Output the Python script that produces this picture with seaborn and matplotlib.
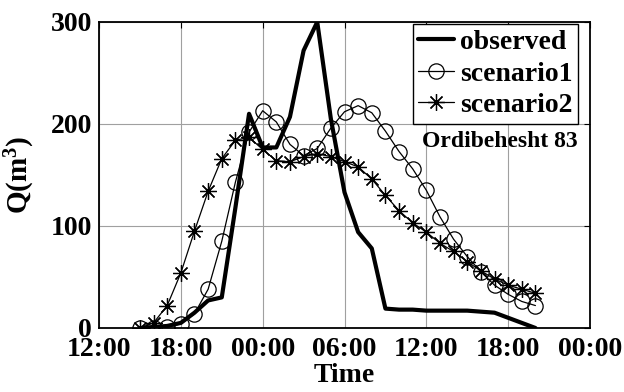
import numpy as np
import pandas as pd
import matplotlib
matplotlib.use("Agg")
import matplotlib.pyplot as plt
import matplotlib.dates as mdates
import seaborn as sns

# Hourly discharge, 15:00 on day one to 20:00 on day two
start_time = "2004-05-01 15:00"
n_hours = 30
observed = [0, 1, 2, 5, 15, 27, 30, 118, 210, 177, 177, 207, 272, 300, 205,
            133, 94, 78, 19, 18, 18, 17, 17, 17, 17, 16, 15, 10, 5, 0]
scenario1 = [0, 0, 1, 4, 14, 38, 85, 143, 192, 213, 202, 180, 169, 176, 196,
             212, 218, 211, 193, 173, 156, 135, 109, 87, 70, 55, 42, 33, 26, 22]
scenario2 = [0, 5, 22, 54, 95, 134, 166, 184, 187, 175, 164, 163, 168, 171, 168,
             163, 158, 146, 130, 115, 103, 94, 83, 75, 65, 56, 48, 42, 38, 34]
y_ticks = [0, 100, 200, 300]
x_range = ["2004-05-01 12:00", "2004-05-03 00:00"]
event_name = "Ordibehesht 83"

times = pd.date_range(start_time, periods=n_hours, freq="h")
df = pd.DataFrame({"time": times, "observed": observed,
                   "scenario1": scenario1, "scenario2": scenario2})

sns.set_theme(style="white")
plt.rcParams["font.family"] = ["Liberation Serif", "DejaVu Serif"]
plt.rcParams["font.weight"] = "bold"
plt.rcParams["text.color"] = "black"
plt.rcParams["axes.labelcolor"] = "black"
plt.rcParams["xtick.color"] = "black"
plt.rcParams["ytick.color"] = "black"
plt.rcParams["mathtext.fontset"] = "custom"
plt.rcParams["mathtext.rm"] = "Liberation Serif:bold"
plt.rcParams["mathtext.it"] = "Liberation Serif:bold"
plt.rcParams["mathtext.bf"] = "Liberation Serif:bold"

fig = plt.figure(figsize=(6.24, 3.92), dpi=100)
ax = fig.add_axes([0.1587, 0.1633, 0.9455 - 0.1587, 0.9439 - 0.1633])

sns.lineplot(data=df, x="time", y="observed", ax=ax, color="black",
             linewidth=3.0, label="observed")
sns.lineplot(data=df, x="time", y="scenario1", ax=ax, color="black",
             linewidth=0.9, marker="o", markersize=11, markerfacecolor="none",
             markeredgecolor="black", markeredgewidth=0.9, label="scenario1")
sns.lineplot(data=df, x="time", y="scenario2", ax=ax, color="black",
             linewidth=0.9, marker=(8, 2, 0), markersize=12,
             markeredgecolor="black", markeredgewidth=0.9, label="scenario2")

ax.set_xlim(pd.Timestamp(x_range[0]), pd.Timestamp(x_range[1]))
ax.set_ylim(0, 300)
ax.set_yticks(y_ticks)
ax.xaxis.set_major_locator(mdates.HourLocator(byhour=[0, 6, 12, 18]))
ax.xaxis.set_major_formatter(mdates.DateFormatter("%H:%M"))

ax.grid(True, color="#a0a0a0", linewidth=0.8)
ax.tick_params(axis="both", which="major", direction="in", length=4,
               width=0.8, top=True, right=True, labelsize=20,
               colors="black")
ax.tick_params(axis="x", pad=6.5)
ax.tick_params(axis="y", pad=5)
for lbl in ax.get_xticklabels() + ax.get_yticklabels():
    lbl.set_fontweight("bold")
for sp in ax.spines.values():
    sp.set_color("black")
    sp.set_linewidth(1.3)

ax.set_xlabel("Time", fontsize=20, fontweight="bold")
ax.xaxis.set_label_coords(0.5, -0.115)
ax.set_ylabel("Q(m$^3$)", fontsize=21, fontweight="bold", labelpad=10)

leg = ax.legend(loc="upper right", bbox_to_anchor=(0.9756, 0.9935),
                prop={"weight": "bold", "size": 20},
                frameon=True, fancybox=False, edgecolor="black",
                framealpha=1, handlelength=1.3, handletextpad=0.2,
                borderpad=0.2, labelspacing=0.22, borderaxespad=0)
leg.get_frame().set_linewidth(1.0)
for t in leg.get_texts():
    t.set_color("black")

ax.text(0.975, 0.61, event_name, transform=ax.transAxes, ha="right",
        va="center", fontsize=17, fontweight="bold", color="black")

fig.savefig("out.png", dpi=100)
